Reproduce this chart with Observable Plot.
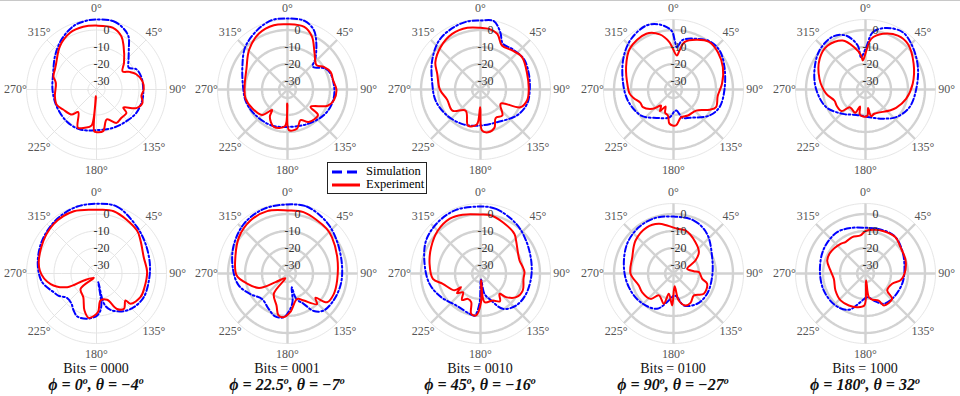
<!DOCTYPE html>
<html><head><meta charset="utf-8">
<script src="https://cdn.jsdelivr.net/npm/d3@7"></script>
<script src="https://cdn.jsdelivr.net/npm/@observablehq/plot@0.6"></script>
<style>
body{margin:0;background:#fff;}
#chart{position:relative;width:960px;height:396px;overflow:hidden;font-family:"Liberation Serif","Times New Roman",serif;background:#fff;}
.panel{position:absolute;width:190px;height:180px;}
.panel svg{overflow:visible;display:block;}
.cap{position:absolute;width:220px;text-align:center;color:#111;white-space:nowrap;}
.bits{font-size:14px;line-height:14px;}
.ang{font-size:16px;line-height:16px;font-style:italic;font-weight:bold;}
.ang sup{font-size:10px;vertical-align:6px;line-height:0;}
#legend{position:absolute;left:327px;top:162px;width:98px;height:30px;border:1px solid #222;background:#fff;font-size:12.5px;}
#legend .row{position:absolute;left:4px;height:13px;line-height:13px;display:flex;align-items:center;}
#legend svg{margin-right:6px;}
#topline{position:absolute;left:0;top:0;width:960px;height:1px;background:#c8c8c8;}
</style></head><body><div id="chart"><div id="topline"></div></div>
<script>
// ---------- data (angle in degrees clockwise from top, gain in dB) ----------
const simTop0 = [[0,6.2],[14,6.4],[23,4.5],[31,1.5],[39,-4.8],[47,-9.2],[56,-12.1],[63,-8.7],[75,-7.6],[90,-7.5],[102,-7.3],[120,-7.8],[136,-9.3],[156,-10.4],[180,-11.1],[203,-9.5],[223,-9.3],[247,-9.5],[270,-9.1],[291,-7.7],[309,-3.6],[325,0.9],[340,4.7],[350,5.8]];
const expTop0 = [[0,2.6],[15,2.6],[25,-0.4],[32,-4.9],[46,-12.5],[55,-16.3],[62,-12.9],[69,-9.9],[80,-7.5],[90,-7.2],[98,-8.3],[106,-6.8],[115,-9.1],[124,-16],[128,-12.6],[139,-12.8],[149,-12.1],[161,-16.4],[171,-10.2],[180,-9.9],[183,-10.3],[185,-31],[188,-13.5],[197,-11.5],[206,-10],[219,-17.9],[225,-14.2],[239,-12.1],[249,-9.9],[261,-10.2],[279,-10.8],[287,-8.5],[296,-7.8],[302,-6.9],[320,-1.6],[335,1.8],[348,2.7]];
const simTop1 = [[0,6.8],[14,6.6],[24,3.2],[32,-3],[42,-10.5],[48,-14.9],[61,-9.5],[70,-8],[90,-7.4],[107,-7.5],[125,-8.8],[150,-11.5],[180,-13],[205,-11.8],[234,-10.7],[254,-9.5],[272,-8.9],[297,-5.2],[315,0.2],[333,4.2],[347,6.8]];
const expTop1 = [[0,3.4],[15,3.1],[25,-0.8],[37,-8.5],[50,-12.7],[58,-9.8],[68,-7.6],[79,-7.6],[90,-6.2],[103,-7],[112,-9.5],[127,-18],[130,-11.6],[147,-12.2],[157,-15.4],[166,-11.4],[178,-11.1],[181,-26.7],[184,-13.4],[200,-11.6],[213,-15.9],[217,-19.9],[225,-13.8],[242,-11.5],[258,-9.7],[274,-9.7],[297,-7.9],[316,-2.5],[333,2],[348,3.7]];
const simTop2 = [[0,5.6],[11,6],[19,0.7],[26,-5],[38,-4.7],[55,-3.8],[72,-5.1],[90,-6],[107,-6.3],[125,-8.6],[153,-13.4],[180,-13.8],[205,-12.2],[232,-10.1],[256,-7.8],[277,-6.4],[301,-1.8],[320,2.8],[337,4.9],[350,5.8]];
const expTop2 = [[0,1.3],[8,1],[17,-0.9],[26,-6.2],[39,-5.4],[52,-4],[71,-6],[90,-6.6],[103,-6.8],[114,-9.3],[125,-20.5],[140,-15],[152,-16],[160,-11],[170,-9.4],[178,-10.9],[181,-24.6],[186,-14.3],[199,-12.5],[215,-19.8],[233,-14.3],[253,-14.5],[270,-11.1],[290,-7.9],[301,-4],[317,-0.7],[333,1.7],[348,2.1]];
const simTop3 = [[1.5,-6.2],[4.5,-10],[10.6,-5.3],[24,-2.3],[37,0.5],[50,0.5],[66,-2.2],[90,-5],[111,-6],[126,-8.9],[150,-15.8],[162,-17.4],[172,-22.5],[178,-22],[188,-18.5],[211,-15.5],[231,-10.6],[256,-7.4],[280,-4.7],[303,0],[320,3.8],[337,5.9],[348,4.1],[358,-0.3]];
const expTop3 = [[5.6,-14.9],[8.7,-11.8],[13,-6.4],[24.5,-2.9],[37,0],[50,-0.9],[65.6,-3.1],[83,-6.2],[98,-8.7],[112.5,-7.9],[119.5,-10.7],[133,-16.8],[151,-17.5],[165,-18],[176,-13.8],[186.6,-14.7],[192,-19.3],[200,-20.5],[205,-24],[212,-20],[218,-23],[227,-18.3],[240,-14.2],[248,-14],[258,-11],[265,-9],[273,-8.1],[295,-4.2],[313,0.2],[334,1.5],[346,-1.6],[355,-7]];
const simTop4 = [[1,-10.1],[7.3,-1],[18.5,3.2],[33,5.2],[48,2.4],[67,-1.5],[90,-5.2],[112,-7.1],[132,-10.7],[149,-15],[172,-18.5],[200,-19.1],[223,-15.4],[246,-9.6],[270,-6],[290,-3],[310,0.5],[328,1.6],[340,-1.2],[350,-8.7],[352,-15.8]];
const expTop4 = [[2,-11.1],[6.4,-5],[17.3,-0.7],[31,2],[43,1.6],[62,-2.9],[83,-7],[103,-10.5],[121,-14],[131,-16.2],[160,-19.8],[168,-19],[172,-24],[176,-19.5],[185,-19],[193,-20],[198,-24.5],[204,-20],[215,-21],[222,-21],[228,-16],[240,-15.5],[250,-15.6],[264,-11.7],[283,-7.2],[304,-2.5],[319,-0.9],[335,-3.2],[345,-9.3],[352.7,-14.8],[354.7,-17.9]];

const simBot0 = [[0,6],[17,6.2],[41,1.3],[59,-1.3],[80,-3.1],[98,-3.9],[117,-3.9],[132,-5.4],[144,-7.6],[159,-12.1],[166,-16.6],[168,-29.7],[172,-15.1],[179,-10.3],[192,-7.8],[204,-7.3],[212,-9.5],[220,-12],[230,-12.5],[240,-9],[246,-7.6],[261,-2.6],[279,0],[301,2.4],[324,4.6],[344,6]];
const expBot0 = [[0,2.5],[15.5,3],[43,-0.2],[53,-2.6],[71,-5.6],[88,-5.2],[106,-5.6],[118,-5.6],[131.7,-8.2],[133,-11.7],[142,-8.7],[150,-10.9],[158,-18.3],[171.6,-19],[178,-12.2],[189.8,-8.5],[198,-12.1],[209,-19],[226,-22],[212,-32],[241,-26.5],[245,-16],[257,-7.3],[273,-1.6],[295.5,1],[319,3.5],[340,4]];
const simBot1 = [[0,5.6],[16,6],[37.5,3],[56,-0.1],[80,-2.5],[101,-3],[120,-3.6],[136,-4.6],[145,-8.1],[152,-14.8],[161,-19.3],[163,-26.6],[170,-18],[177,-13.2],[185,-9.2],[196,-8.7],[208,-11.4],[225,-13.8],[241,-10],[256,-5.5],[273,-3],[296,0.5],[319,3.9],[340,5.5]];
const expBot1 = [[0,2.1],[14.6,2.3],[41,0],[51,-1.3],[72,-4.2],[98,-5.5],[114,-5.2],[126,-6.2],[131,-13.2],[136,-10],[149,-16.4],[159,-19],[176,-12.2],[185,-9.2],[192,-9.8],[199,-15.1],[214,-20.6],[205,-32],[234,-26.3],[243,-16.2],[256,-10.5],[268,-5],[287,-2.9],[307,0.7],[325,3],[342,3.6]];
const simBot2 = [[0,4.4],[13.6,4.1],[35.7,1],[54,-1.9],[75.6,-4.2],[94,-5.1],[114,-5.6],[132,-6.8],[147.7,-10.4],[158.4,-17.9],[169,-22.8],[175,-31.5],[182,-17.2],[188,-10],[195,-10.4],[217,-11.4],[239,-8],[258.5,-4.4],[279.8,-1.6],[301,2.4],[320,4.2],[339,5.1]];
const expBot2 = [[0,-0.3],[10.4,-0.3],[23.5,-2.1],[40.6,-4.3],[47,-6.4],[71.6,-10.8],[80,-10],[88,-9.1],[97,-9.5],[112,-8.2],[123.6,-9.8],[132.7,-14.5],[137,-18.6],[145,-15],[155.5,-17.5],[172,-18],[175,-31],[179,-18],[186,-10.2],[193,-10.7],[198,-17.3],[206.6,-18.3],[215,-16],[223,-19.9],[230,-17],[235,-21],[237,-16.8],[254.7,-12],[263.6,-6.8],[280.7,-4.5],[298,-2.1],[315,0.6],[330.4,2],[343,1.2]];
const simBot3 = [[0,-1.5],[21,-1.6],[40,-4.4],[67,-10.3],[95,-12.2],[121,-11.9],[142,-12.4],[162,-15.2],[171,-20.9],[178,-22],[190,-18.9],[205,-12.1],[229,-9.3],[253,-7.5],[277,-5.6],[302.6,-2.6],[323,-1],[342,-0.6]];
const expBot3 = [[352.5,-6.5],[4.7,-8.6],[15.6,-8.7],[35,-12.5],[50,-15.5],[59.4,-20],[71,-26.5],[83.5,-23],[87,-20],[100.5,-17.8],[107,-14.3],[123.8,-13.5],[137,-17.4],[150,-15],[159.4,-14.9],[169,-18.8],[175,-27.4],[182.4,-16.2],[193,-22.7],[197.7,-16.3],[213.7,-19.5],[222,-14.9],[239,-13.5],[251,-13.4],[270,-9.7],[291.6,-8.9],[311,-5.4],[330,-3.6],[343.5,-4.5]];
const simBot4 = [[0,-8.1],[14.6,-7.8],[36.7,-7.1],[58,-9.5],[85.6,-12],[105.7,-12.6],[130,-13.3],[149,-14.2],[163,-18.4],[176,-21],[190,-17.9],[204.6,-11.5],[223,-9.2],[248,-8.5],[274,-8.1],[300.6,-6.5],[325.6,-5.5],[343.7,-7]];
const expBot4 = [[0,-10],[10.8,-8.8],[23.4,-7.9],[39.5,-7.3],[53,-9.2],[72,-10.2],[90,-12],[101,-14],[111,-18.2],[128,-18.8],[133.5,-13.4],[150,-13.3],[154,-17.3],[165,-19],[172,-20.9],[175,-30.9],[182,-16.2],[194,-14.6],[207.5,-13.8],[222.8,-13.4],[240.5,-14.7],[260,-16.1],[275,-14.3],[288.7,-11.2],[301,-10.9],[320,-12.2],[327.5,-13.1],[340,-12.2],[352.5,-12.4]];

const bitsLabels = ["0000", "0001", "0010", "0100", "1000"];
const phiLabels = ["0", "22.5", "45", "90", "180"];
const thetaLabels = ["\u22124", "\u22127", "\u221216", "\u221227", "32"];
const ringTicks = [0, -10, -20, -30];
const angleTicks = [0, 45, 90, 135, 180, 225, 270, 315];
const legendLabels = ["Simulation", "Experiment"];

// ---------- layout ----------
const colCenters = [96, 287, 480, 673, 865];
const rowCenters = [89, 273];
const DB_MIN = -35, DB_MAX = 6.2, LABEL_DB = 12.7;
const colat = v => Math.max(0, v - DB_MIN);
const lon = a => 180 - a;
const lat = v => 90 - colat(v);
const circle = v => d3.geoCircle().center([0, 90]).radius(colat(v)).precision(2)();

function polarPanel(sim, exp, thick) {
  const gc = thick ? "#d2d2d2" : "#e4e4e4";
  const gw = thick ? 2.4 : 1;
  return Plot.plot({
    width: 190, height: 180,
    marginLeft: 25, marginRight: 25, marginTop: 20, marginBottom: 20,
    projection: {type: "azimuthal-equidistant", rotate: [0, -90], domain: circle(DB_MAX), inset: 0, clip: false},
    style: {fontFamily: "'Liberation Serif', 'Times New Roman', serif", fontSize: "12px", background: "transparent", overflow: "visible"},
    marks: [
      Plot.geo([DB_MAX], {geometry: v => circle(v), fill: "none", stroke: "#e6e6e6", strokeWidth: 1}),
      Plot.geo(ringTicks, {geometry: v => circle(v), fill: "none", stroke: gc, strokeWidth: gw}),
      Plot.link(angleTicks, {x1: a => lon(a), y1: () => 89.999, x2: a => lon(a), y2: () => lat(DB_MAX), stroke: gc, strokeWidth: gw}),
      Plot.line(sim, {x: d => lon(d[0]), y: d => lat(d[1]), curve: "catmull-rom-closed", stroke: "#0000ff", strokeWidth: 2, strokeDasharray: "6,2.5,1.8,2.5"}),
      Plot.line(exp, {x: d => lon(d[0]), y: d => lat(d[1]), curve: "catmull-rom-closed", stroke: "#ff0000", strokeWidth: 2}),
      Plot.text(ringTicks, {x: () => 180, y: v => lat(v), text: v => String(v), dx: 13, textAnchor: "end", fill: "#333", fontSize: 12}),
      Plot.text(angleTicks, {x: a => lon(a), y: () => lat(LABEL_DB), text: a => a + "\u00b0", fill: "#555", fontSize: 12})
    ]
  });
}

const chart = document.getElementById("chart");
const tops = [[simTop0, expTop0], [simTop1, expTop1], [simTop2, expTop2], [simTop3, expTop3], [simTop4, expTop4]];
const bots = [[simBot0, expBot0], [simBot1, expBot1], [simBot2, expBot2], [simBot3, expBot3], [simBot4, expBot4]];
[tops, bots].forEach((row, r) => {
  row.forEach(([s, e], c) => {
    const div = document.createElement("div");
    div.className = "panel";
    div.style.left = (colCenters[c] - 95) + "px";
    div.style.top = (rowCenters[r] - 90) + "px";
    div.appendChild(polarPanel(s, e, c !== 0));
    chart.appendChild(div);
  });
});

bitsLabels.forEach((b, c) => {
  const d1 = document.createElement("div");
  d1.className = "cap bits";
  d1.style.left = (colCenters[c] - 110) + "px";
  d1.style.top = "362px";
  d1.textContent = "Bits = " + b;
  chart.appendChild(d1);
  const d2 = document.createElement("div");
  d2.className = "cap ang";
  d2.style.left = (colCenters[c] - 110) + "px";
  d2.style.top = "377px";
  d2.innerHTML = "\u03d5 = " + phiLabels[c] + "<sup>o</sup>, \u03b8 = " + thetaLabels[c] + "<sup>o</sup>";
  chart.appendChild(d2);
});

const legend = document.createElement("div");
legend.id = "legend";
const styles = [{stroke: "#0000ff", dash: "10,5"}, {stroke: "#ff0000", dash: null}];
legendLabels.forEach((lab, i) => {
  const row = document.createElement("div");
  row.className = "row";
  row.style.top = (i === 0 ? 2 : 15) + "px";
  row.innerHTML = `<svg width="28" height="6"><line x1="0" y1="3" x2="28" y2="3" stroke="${styles[i].stroke}" stroke-width="3" ${styles[i].dash ? `stroke-dasharray="${styles[i].dash}"` : ""}/></svg><span>${lab}</span>`;
  legend.appendChild(row);
});
chart.appendChild(legend);
</script></body></html>
